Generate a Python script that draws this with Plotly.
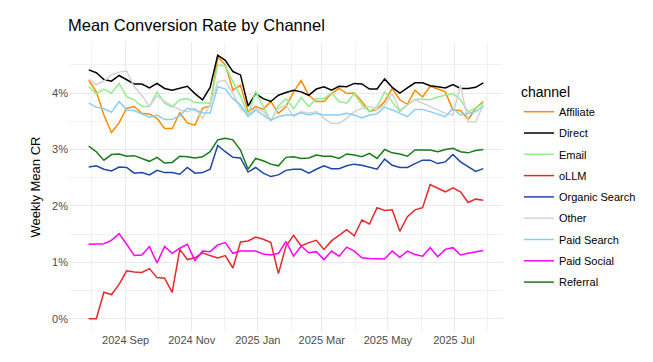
import pandas as pd
import plotly.graph_objects as go

weeks = pd.date_range("2024-07-29", periods=53, freq="7D")

channels = ["Affiliate", "Direct", "Email", "oLLM", "Organic Search", "Other",
            "Paid Search", "Paid Social", "Referral"]
colors = ["#FF8C00", "#000000", "#90EE90", "#E8282B", "#1C47A8", "#D3D3D3",
          "#87CEFA", "#FF00FF", "#1A7A1A"]

affiliate = [4.23,4.02,3.61,3.30,3.47,3.73,3.76,3.64,3.63,3.55,3.37,3.37,3.65,3.47,3.43,3.73,3.77,4.64,
             4.50,4.05,4.14,3.67,3.76,3.71,3.85,3.64,3.76,4.02,4.22,3.96,3.85,3.85,3.99,4.08,3.99,4.00,
             3.85,3.67,3.71,3.85,4.08,3.88,3.80,4.05,3.93,4.12,4.07,4.02,3.70,3.69,3.53,3.73,3.85]
direct = [4.41,4.36,4.24,4.21,4.31,4.23,4.16,4.16,4.09,4.17,4.08,4.05,4.09,4.12,3.99,3.88,4.10,4.67,
          4.58,4.38,4.32,3.77,3.99,3.90,3.85,3.96,4.01,4.05,4.02,3.96,4.07,4.11,4.05,4.12,4.11,4.17,
          4.16,4.07,4.07,4.25,4.10,4.00,4.09,4.18,4.18,4.13,4.11,4.09,4.15,4.08,4.08,4.10,4.18]
email = [4.11,3.99,4.07,4.00,4.17,3.93,3.88,3.76,3.76,4.02,3.82,3.75,3.88,3.90,3.83,3.82,3.82,4.50,
         4.48,4.20,3.95,3.60,4.03,3.75,3.50,3.77,3.90,3.72,3.92,3.76,3.90,3.90,4.00,3.85,3.82,3.99,
         3.79,3.67,3.76,4.02,3.85,3.67,3.79,3.89,3.89,3.88,3.93,3.96,3.99,3.88,3.67,3.73,3.82]
ollm = [0.00,0.00,0.47,0.43,0.61,0.85,0.83,0.82,0.89,0.73,0.72,0.47,1.23,1.05,1.08,1.17,1.12,1.08,
        1.12,0.90,1.36,1.38,1.45,1.41,1.35,0.80,1.29,1.48,1.29,1.35,1.39,1.23,1.38,1.48,1.58,1.47,
        1.75,1.68,1.97,1.92,1.93,1.55,1.81,1.93,1.97,2.38,2.32,2.25,2.32,2.25,2.06,2.12,2.10]
organic = [2.69,2.71,2.65,2.62,2.69,2.68,2.58,2.59,2.55,2.63,2.59,2.59,2.56,2.68,2.58,2.59,2.65,3.07,
           2.96,2.86,2.85,2.60,2.68,2.58,2.52,2.55,2.63,2.65,2.65,2.58,2.65,2.71,2.66,2.66,2.71,2.74,
           2.72,2.69,2.65,2.83,2.72,2.68,2.68,2.75,2.81,2.81,2.75,2.78,2.91,2.78,2.69,2.61,2.66]
other = [4.24,4.15,4.21,4.32,4.37,4.39,4.11,3.96,3.76,3.95,3.85,3.77,3.70,3.67,3.73,3.55,3.79,4.20,
         4.22,3.99,3.73,3.61,3.73,3.67,3.52,3.73,3.79,3.58,3.67,3.64,3.67,3.55,3.46,3.46,3.55,3.67,
         3.73,3.76,3.70,3.79,3.99,3.70,3.79,3.88,3.82,3.76,3.70,3.64,3.61,4.14,3.49,3.49,3.79]
paid_search = [3.82,3.75,3.72,3.66,3.85,3.70,3.69,3.63,3.57,3.61,3.53,3.53,3.60,3.73,3.70,3.65,3.64,4.11,
               4.07,3.90,3.79,3.58,3.70,3.61,3.52,3.58,3.61,3.61,3.65,3.61,3.64,3.61,3.61,3.61,3.64,3.61,
               3.56,3.61,3.63,3.75,3.70,3.64,3.58,3.71,3.71,3.67,3.62,3.58,3.73,3.61,3.64,3.67,3.77]
paid_social = [1.32,1.33,1.33,1.39,1.51,1.32,1.12,1.13,1.28,0.99,1.28,1.16,1.25,1.32,1.03,1.20,1.19,1.31,
               1.35,1.16,1.20,1.20,1.20,1.15,1.13,1.16,1.37,1.11,1.29,1.17,1.19,1.05,1.20,1.11,1.27,1.20,
               1.08,1.07,1.06,1.06,1.20,1.09,1.20,1.14,1.11,1.26,1.10,1.23,1.26,1.13,1.16,1.19,1.21]
referral = [3.06,2.96,2.81,2.91,2.92,2.88,2.89,2.84,2.79,2.86,2.76,2.77,2.88,2.87,2.85,2.87,2.96,3.17,
            3.20,3.17,2.99,2.65,2.84,2.80,2.74,2.71,2.86,2.87,2.84,2.85,2.90,2.88,2.88,2.84,2.92,2.90,
            2.87,2.93,2.84,3.00,2.94,2.92,2.88,2.99,2.99,2.99,2.96,3.00,3.02,2.96,2.94,2.98,3.00]

series = [affiliate, direct, email, ollm, organic, other, paid_search, paid_social, referral]

x_tickvals = ["2024-09-01", "2024-11-01", "2025-01-01", "2025-03-01", "2025-05-01", "2025-07-01"]
x_ticktext = ["2024 Sep", "2024 Nov", "2025 Jan", "2025 Mar", "2025 May", "2025 Jul"]
x_minor = ["2024-08-01", "2024-10-01", "2024-12-01", "2025-02-01", "2025-04-01", "2025-06-01", "2025-08-01"]
y_tickvals = [0, 1, 2, 3, 4]
y_ticktext = ["0%", "1%", "2%", "3%", "4%"]

fig = go.Figure()
for name, col, vals in zip(channels, colors, series):
    fig.add_trace(go.Scatter(x=weeks, y=vals, mode="lines", name=name,
                             legendgroup=name,
                             line=dict(color=col, width=1.5)))

span = weeks[-1] - weeks[0]
xr = [weeks[0] - span * 0.05, weeks[-1] + span * 0.05]
ymax = max(max(s) for s in series)
ymin = 0
yr = [ymin - 0.05 * (ymax - ymin), ymax + 0.05 * (ymax - ymin)]

grid = "#EBEBEB"
fig.update_layout(
    width=653, height=362,
    margin=dict(l=69, r=141, t=42, b=30),
    paper_bgcolor="white", plot_bgcolor="white",
    font=dict(family="Liberation Sans, Arial, sans-serif", color="#000000"),
    title=dict(text="Mean Conversion Rate by Channel", x=68 / 653, xanchor="left",
               y=1 - 25 / 362, yanchor="middle", font=dict(size=16.5, color="#000000")),
    xaxis=dict(range=xr, tickvals=x_tickvals, ticktext=x_ticktext,
               showgrid=True, gridcolor=grid, gridwidth=1.1, zeroline=False, showline=False,
               ticks="", tickfont=dict(size=11, color="#4D4D4D"),
               minor=dict(tickvals=x_minor, showgrid=True, gridcolor="#F2F2F2", gridwidth=0.6)),
    yaxis=dict(range=yr, tickvals=y_tickvals, ticktext=y_ticktext,
               showgrid=True, gridcolor=grid, gridwidth=1.1, zeroline=False, showline=False,
               ticks="", tickfont=dict(size=11, color="#4D4D4D"),
               title=dict(text="Weekly Mean CR", font=dict(size=13, color="#000000"), standoff=8),
               minor=dict(tickvals=[0.5, 1.5, 2.5, 3.5, 4.5], showgrid=True, gridcolor="#F2F2F2", gridwidth=0.6)),
    legend=dict(x=1.03 + 3 / 443, xanchor="left", y=1 - (79 - 42) / 290, yanchor="top",
                title=dict(text="channel", font=dict(size=14)),
                font=dict(size=11), tracegroupgap=2.3, itemwidth=30,
                bgcolor="rgba(0,0,0,0)"),
    showlegend=True,
)

fig.write_html("out.html", config={"displayModeBar": False},
               post_script="document.body.style.margin='0';document.body.style.overflow='hidden';")
